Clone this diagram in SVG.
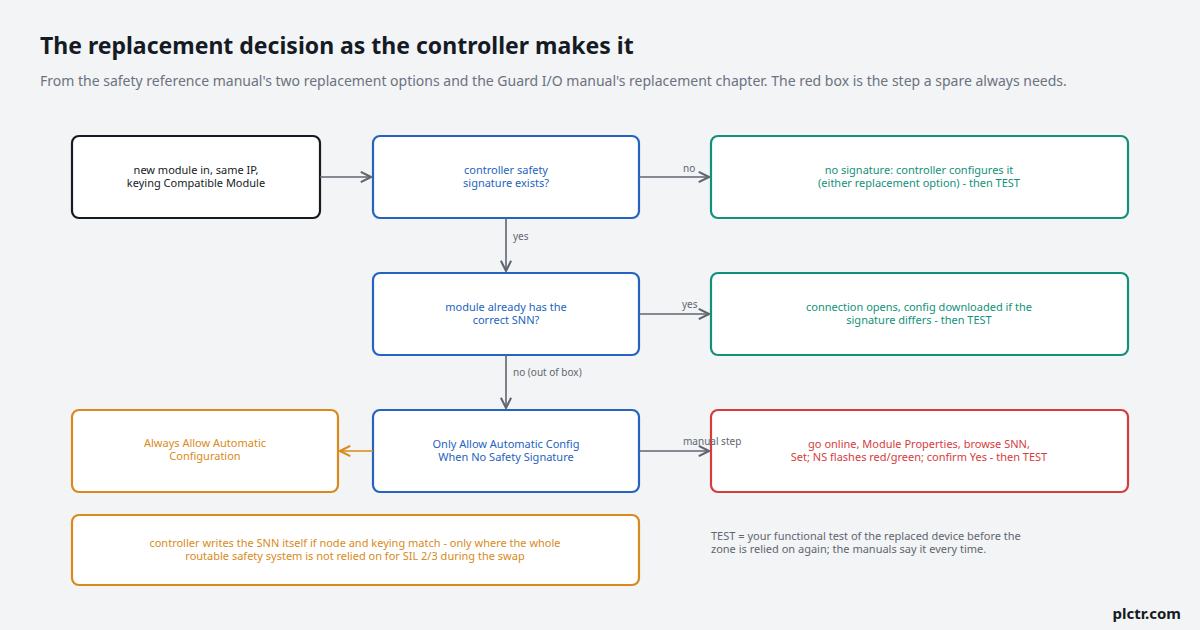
<svg xmlns="http://www.w3.org/2000/svg" width="1200" height="630" viewBox="0 0 1200 630">
<style>
text{font-family:"Noto Sans","Open Sans",sans-serif}
.box{fill:#fff;stroke-width:2.2}
.t{font-size:11px;text-anchor:middle}
.lbl{font-size:10px;fill:#5f6670}
.c{stroke:#5f6670;stroke-width:1.6;fill:none}
</style>
<defs>
<marker id="ag" viewBox="0 0 10 10" refX="9" refY="5" markerWidth="8" markerHeight="8" orient="auto"><path d="M1 1L9 5L1 9" fill="none" stroke="#5f6670" stroke-width="1.6"/></marker>
<marker id="ao" viewBox="0 0 10 10" refX="9" refY="5" markerWidth="8" markerHeight="8" orient="auto"><path d="M1 1L9 5L1 9" fill="none" stroke="#d98a1a" stroke-width="1.6"/></marker>
</defs>
<rect width="1200" height="630" fill="#f3f4f6"/>
<text x="40" y="54" font-size="23" font-weight="700" fill="#151b24">The replacement decision as the controller makes it</text>
<text x="40" y="86" font-size="14" fill="#6b7280">From the safety reference manual's two replacement options and the Guard I/O manual's replacement chapter. The red box is the step a spare always needs.</text>
<g id="n1"><rect class="box" x="72" y="136" width="248" height="82" rx="7" stroke="#151b24"/><text class="t" fill="#151b24"><tspan x="196" y="174">new module in, same IP,</tspan><tspan x="196" y="187">keying Compatible Module</tspan></text></g>
<g id="n2"><rect class="box" x="373" y="136" width="266" height="82" rx="7" stroke="#2563c0"/><text class="t" fill="#2563c0"><tspan x="506" y="174">controller safety</tspan><tspan x="506" y="187">signature exists?</tspan></text></g>
<g id="n3"><rect class="box" x="711" y="136" width="417" height="82" rx="7" stroke="#12917a"/><text class="t" fill="#12917a"><tspan x="919" y="174">no signature: controller configures it</tspan><tspan x="919" y="187">(either replacement option) - then TEST</tspan></text></g>
<g id="n4"><rect class="box" x="373" y="273" width="266" height="82" rx="7" stroke="#2563c0"/><text class="t" fill="#2563c0"><tspan x="506" y="311">module already has the</tspan><tspan x="506" y="324">correct SNN?</tspan></text></g>
<g id="n5"><rect class="box" x="711" y="273" width="417" height="82" rx="7" stroke="#12917a"/><text class="t" fill="#12917a"><tspan x="919" y="311">connection opens, config downloaded if the</tspan><tspan x="919" y="324">signature differs - then TEST</tspan></text></g>
<g id="n6"><rect class="box" x="373" y="410" width="266" height="82" rx="7" stroke="#2563c0"/><text class="t" fill="#2563c0"><tspan x="506" y="448">Only Allow Automatic Config</tspan><tspan x="506" y="461">When No Safety Signature</tspan></text></g>
<g id="n7"><rect class="box" x="72" y="410" width="266" height="82" rx="7" stroke="#d98a1a"/><text class="t" fill="#d98a1a" font-size="10"><tspan x="205" y="447">Always Allow Automatic</tspan><tspan x="205" y="460">Configuration</tspan></text></g>
<g id="n8"><rect class="box" x="711" y="410" width="417" height="82" rx="7" stroke="#d63c3c"/><text class="t" fill="#d63c3c"><tspan x="919" y="448">go online, Module Properties, browse SNN,</tspan><tspan x="919" y="461">Set; NS flashes red/green; confirm Yes - then TEST</tspan></text></g>
<g id="n9"><rect class="box" x="72" y="515" width="567" height="70" rx="7" stroke="#d98a1a"/><text class="t" fill="#d98a1a" font-size="10"><tspan x="355" y="547">controller writes the SNN itself if node and keying match - only where the whole</tspan><tspan x="355" y="560">routable safety system is not relied on for SIL 2/3 during the swap</tspan></text></g>
<g id="connectors">
<path class="c" d="M320 177H371" marker-end="url(#ag)"/>
<path class="c" d="M639 177H709" marker-end="url(#ag)"/>
<text class="lbl" x="683" y="172">no</text>
<path class="c" d="M506 218V271" marker-end="url(#ag)"/>
<text class="lbl" x="513" y="240">yes</text>
<path class="c" d="M639 314H709" marker-end="url(#ag)"/>
<text class="lbl" x="682" y="308">yes</text>
<path class="c" d="M506 355V408" marker-end="url(#ag)"/>
<text class="lbl" x="513" y="376">no (out of box)</text>
<path class="c" d="M639 451H709" marker-end="url(#ag)"/>
<text class="lbl" x="683" y="445">manual step</text>
<path d="M373 451H340" stroke="#d98a1a" stroke-width="1.6" fill="none" marker-end="url(#ao)"/>
</g>
<text font-size="11" fill="#5f6670"><tspan x="711" y="540">TEST = your functional test of the replaced device before the</tspan><tspan x="711" y="553">zone is relied on again; the manuals say it every time.</tspan></text>
<text x="1181" y="619" font-size="15" font-weight="700" fill="#151b24" text-anchor="end">plctr.com</text>
</svg>
